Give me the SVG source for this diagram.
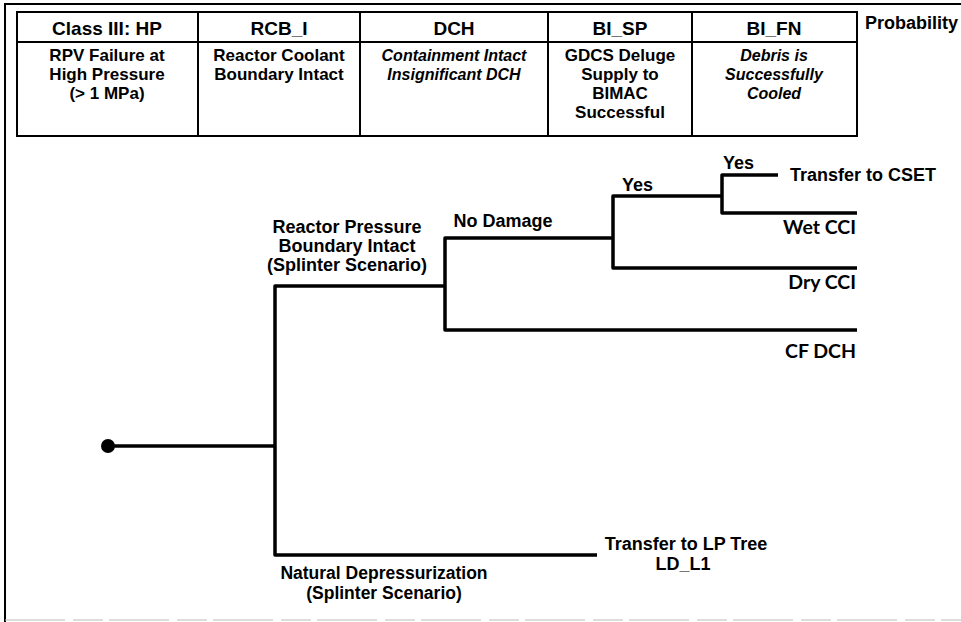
<svg xmlns="http://www.w3.org/2000/svg" width="961" height="622" viewBox="0 0 961 622">
<style>
.t{font-family:"Liberation Sans",Arial,sans-serif;font-weight:bold;font-size:18px;fill:#000}
.h{font-family:"Liberation Sans",Arial,sans-serif;font-weight:bold;font-size:19px;fill:#000;text-anchor:middle}
.b{font-family:"Liberation Sans",Arial,sans-serif;font-weight:bold;font-size:17px;fill:#000;text-anchor:middle}
.i{font-family:"Liberation Sans",Arial,sans-serif;font-weight:bold;font-style:italic;font-size:16px;fill:#000;text-anchor:middle}
.c{font-family:Lato,"Open Sans",sans-serif;font-weight:bold;font-size:19.5px;fill:#000;text-anchor:end}
.m{text-anchor:middle}
.br{fill:none;stroke:#000;stroke-width:3.5;stroke-linejoin:round;stroke-linecap:butt}
.g{fill:none;stroke:#000;stroke-width:2}
</style>
<rect width="961" height="622" fill="#fff"/>
<g id="frame">
<path class="g" d="M5,622 V4 H961"/>
<line x1="5" y1="620" x2="961" y2="620" stroke="#bbb" stroke-width="1" stroke-dasharray="60,8,30,6"/>
</g>
<g id="table">
<rect class="g" x="17" y="12" width="840" height="124"/>
<line class="g" x1="17" y1="42" x2="857" y2="42" stroke-width="1.5"/>
<line class="g" x1="198" y1="12" x2="198" y2="136"/>
<line class="g" x1="360" y1="12" x2="360" y2="136"/>
<line class="g" x1="548" y1="12" x2="548" y2="136"/>
<line class="g" x1="692" y1="12" x2="692" y2="136"/>
<text class="h" x="107" y="35">Class III: HP</text>
<text class="h" x="279" y="35">RCB_I</text>
<text class="h" x="454" y="35">DCH</text>
<text class="h" x="620" y="35">BI_SP</text>
<text class="h" x="774" y="35">BI_FN</text>
<text class="t" x="865" y="29">Probability</text>
<text class="b" x="107" y="61">RPV Failure at</text>
<text class="b" x="107" y="80">High Pressure</text>
<text class="b" x="107" y="99">(&gt; 1 MPa)</text>
<text class="b" x="279" y="61">Reactor Coolant</text>
<text class="b" x="279" y="80">Boundary Intact</text>
<text class="i" x="454" y="61">Containment Intact</text>
<text class="i" x="454" y="80">Insignificant DCH</text>
<text class="b" x="620" y="61">GDCS Deluge</text>
<text class="b" x="620" y="80">Supply to</text>
<text class="b" x="620" y="99">BIMAC</text>
<text class="b" x="620" y="118">Successful</text>
<text class="i" x="774" y="61">Debris is</text>
<text class="i" x="774" y="80">Successfully</text>
<text class="i" x="774" y="99">Cooled</text>
</g>
<g id="connectors">
<path class="br" d="M108,446 H275"/>
<path class="br" d="M445,286 H275 V555 H597"/>
<path class="br" d="M613,238 H445 V330 H857"/>
<path class="br" d="M722,196 H613 V268 H857"/>
<path class="br" d="M778,175 H722 V213 H857"/>
</g>
<g id="start"><circle cx="108" cy="446" r="7" fill="#000"/></g>
<g id="rcb">
<text class="t m" x="347" y="233">Reactor Pressure</text>
<text class="t m" x="347" y="252">Boundary Intact</text>
<text class="t m" x="347" y="271">(Splinter Scenario)</text>
</g>
<g id="nodamage"><text class="t m" x="503" y="227">No Damage</text></g>
<g id="yes1"><text class="t" x="622" y="191">Yes</text></g>
<g id="yes2"><text class="t" x="723" y="169">Yes</text></g>
<g id="cset"><text class="t" x="790" y="181">Transfer to CSET</text></g>
<g id="wetcci"><text class="c" x="856" y="234">Wet CCI</text></g>
<g id="drycci"><text class="c" x="856" y="289">Dry CCI</text></g>
<g id="cfdch"><text class="c" x="856" y="358">CF DCH</text></g>
<g id="lp">
<text class="t m" x="686" y="550">Transfer to LP Tree</text>
<text class="t m" x="683" y="570">LD_L1</text>
</g>
<g id="natdep">
<text class="t m" x="384" y="579" style="font-size:17.5px">Natural Depressurization</text>
<text class="t m" x="384" y="599" style="font-size:17.5px">(Splinter Scenario)</text>
</g>
</svg>
